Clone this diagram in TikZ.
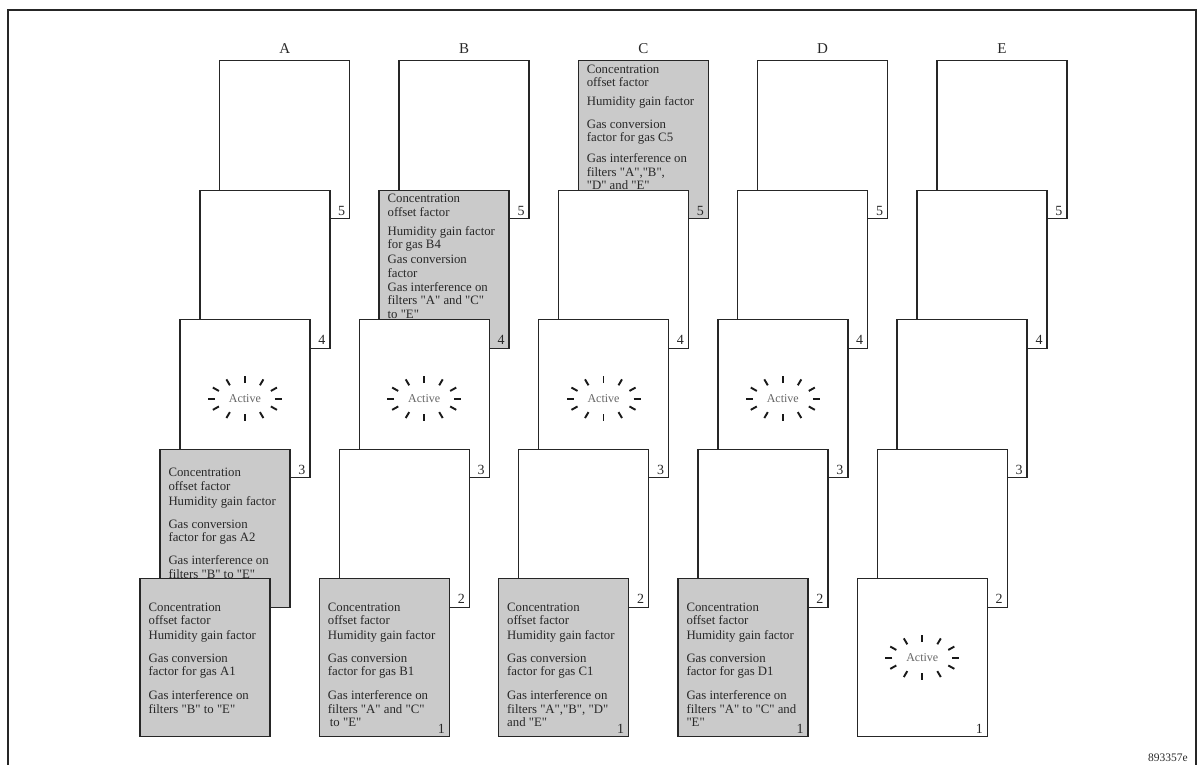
\documentclass[tikz,border=0pt]{standalone}
\usepackage{fontspec}
\setmainfont{Liberation Serif}[Ligatures=TeXOff]
\definecolor{cardgray}{RGB}{202,202,202}
\definecolor{inkgray}{RGB}{40,40,40}
\tikzset{
  card/.style={draw=black!85, line width=1.4pt, minimum width=130pt, minimum height=158pt, inner sep=0pt, anchor=north west, fill=white},
  graycard/.style={card, fill=cardgray},
  numlbl/.style={font=\fontsize{14}{14}\selectfont, inner sep=0pt, anchor=south east, text=inkgray},
  cardtext/.style={font=\fontsize{12.8}{13.3}\selectfont, align=left, inner sep=0pt, anchor=north west, text=inkgray},
  collbl/.style={font=\fontsize{15}{15}\selectfont, inner sep=0pt, anchor=base, text=inkgray},
  activetxt/.style={font=\fontsize{12}{12}\selectfont, inner sep=0pt, text=black!60},
  burst/.style={line width=1.9pt, draw=black!90},
  frameline/.style={line width=1.8pt, draw=black!85},
}
\newcommand\mkcard[4]{%
  \pgfmathsetmacro\cpx{219+179.3*#2-19.9*(5-#3)}%
  \pgfmathsetmacro\cpy{60+129.5*(5-#3)}%
  \node[#4] (#1) at (\cpx,\cpy) {};%
}
\newcommand\cardnum[2]{\node[numlbl] (#1n) at ([xshift=-5pt,yshift=4pt]#1.south east) {#2};}
\newcommand\activeburst[1]{%
  \node[activetxt] (#1a) at (#1.center) {Active};%
  \foreach \t in {0,30,...,330}
    \draw[burst, shift={(#1.center)}] ({30*cos(\t)},{15.5*sin(\t)}) -- ({37*cos(\t)},{22.3*sin(\t)});%
}
\begin{document}
\begin{tikzpicture}[x=1pt,y=-1pt]
\useasboundingbox (0,0) rectangle (1197,765);
\draw[frameline] (8,770) -- (8,10) -- (1195.8,10) -- (1195.8,770);

% ---------------- column A ----------------
\mkcard{A5}{0}{5}{card}\cardnum{A5}{5}
\mkcard{A4}{0}{4}{card}\cardnum{A4}{4}
\mkcard{A3}{0}{3}{card}\cardnum{A3}{3}\activeburst{A3}
\mkcard{A2}{0}{2}{graycard}
\node[cardtext] (A2t) at ([xshift=9pt,yshift=-18pt]A2.north west) {\rule{0pt}{10pt}Concentration\\offset factor\\[2.5pt]Humidity gain factor\\[9pt]Gas conversion\\factor for gas A2\\[10pt]Gas interference on\\filters "B" to "E"};
\mkcard{A1}{0}{1}{graycard}
\node[cardtext] (A1t) at ([xshift=9pt,yshift=-23pt]A1.north west) {\rule{0pt}{10pt}Concentration\\offset factor\\[2pt]Humidity gain factor\\[9pt]Gas conversion\\factor for gas A1\\[11pt]Gas interference on\\filters "B" to "E"};

% ---------------- column B ----------------
\mkcard{B5}{1}{5}{card}\cardnum{B5}{5}
\mkcard{B4}{1}{4}{graycard}\cardnum{B4}{4}
\node[cardtext] (B4t) at ([xshift=9pt,yshift=-3pt]B4.north west) {\rule{0pt}{10pt}Concentration\\offset factor\\[6pt]Humidity gain factor\\for gas B4\\[2pt]Gas conversion\\factor\\[1pt]Gas interference on\\filters "A" and "C"\\to "E"};
\mkcard{B3}{1}{3}{card}\cardnum{B3}{3}\activeburst{B3}
\mkcard{B2}{1}{2}{card}\cardnum{B2}{2}
\mkcard{B1}{1}{1}{graycard}\cardnum{B1}{1}
\node[cardtext] (B1t) at ([xshift=9pt,yshift=-23pt]B1.north west) {\rule{0pt}{10pt}Concentration\\offset factor\\[2pt]Humidity gain factor\\[9pt]Gas conversion\\factor for gas B1\\[11pt]Gas interference on\\filters "A" and "C"\\\hspace{2pt}to "E"};

% ---------------- column C ----------------
\mkcard{C5}{2}{5}{graycard}\cardnum{C5}{5}
\node[cardtext] (C5t) at ([xshift=9pt,yshift=-3pt]C5.north west) {\rule{0pt}{10pt}Concentration\\offset factor\\[6pt]Humidity gain factor\\[9pt]Gas conversion\\factor for gas C5\\[8pt]Gas interference on\\filters "A","B",\\"D" and "E"};
\mkcard{C4}{2}{4}{card}\cardnum{C4}{4}
\mkcard{C3}{2}{3}{card}\cardnum{C3}{3}\activeburst{C3}
\mkcard{C2}{2}{2}{card}\cardnum{C2}{2}
\mkcard{C1}{2}{1}{graycard}\cardnum{C1}{1}
\node[cardtext] (C1t) at ([xshift=9pt,yshift=-23pt]C1.north west) {\rule{0pt}{10pt}Concentration\\offset factor\\[2pt]Humidity gain factor\\[9pt]Gas conversion\\factor for gas C1\\[11pt]Gas interference on\\filters "A","B", "D"\\and "E"};

% ---------------- column D ----------------
\mkcard{D5}{3}{5}{card}\cardnum{D5}{5}
\mkcard{D4}{3}{4}{card}\cardnum{D4}{4}
\mkcard{D3}{3}{3}{card}\cardnum{D3}{3}\activeburst{D3}
\mkcard{D2}{3}{2}{card}\cardnum{D2}{2}
\mkcard{D1}{3}{1}{graycard}\cardnum{D1}{1}
\node[cardtext] (D1t) at ([xshift=9pt,yshift=-23pt]D1.north west) {\rule{0pt}{10pt}Concentration\\offset factor\\[2pt]Humidity gain factor\\[9pt]Gas conversion\\factor for gas D1\\[11pt]Gas interference on\\filters "A" to "C" and\\"E"};

% ---------------- column E ----------------
\mkcard{E5}{4}{5}{card}\cardnum{E5}{5}
\mkcard{E4}{4}{4}{card}\cardnum{E4}{4}
\mkcard{E3}{4}{3}{card}\cardnum{E3}{3}
\mkcard{E2}{4}{2}{card}\cardnum{E2}{2}
\mkcard{E1}{4}{1}{card}\cardnum{E1}{1}\activeburst{E1}

% column labels
\node[collbl] (LA) at ([yshift=6pt]A5.north) {A};
\node[collbl] (LB) at ([yshift=6pt]B5.north) {B};
\node[collbl] (LC) at ([yshift=6pt]C5.north) {C};
\node[collbl] (LD) at ([yshift=6pt]D5.north) {D};
\node[collbl] (LE) at ([yshift=6pt]E5.north) {E};

\node[font=\fontsize{11.5}{11.5}\selectfont, inner sep=0pt, anchor=base east, text=inkgray] (id) at (1188,761) {893357e};
\end{tikzpicture}
\end{document}
